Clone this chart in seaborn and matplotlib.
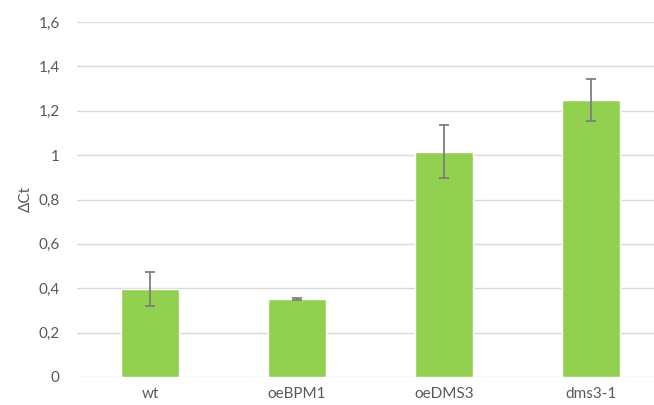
import matplotlib
matplotlib.use("Agg")
import matplotlib.pyplot as plt
import seaborn as sns
import pandas as pd

# Expression data: mean ΔCt per line with error
lines = ["wt", "oeBPM1", "oeDMS3", "dms3-1"]
delta_ct = [0.397, 0.351, 1.015, 1.248]
errors = [0.076, 0.006, 0.120, 0.095]
yticks = [0, 0.2, 0.4, 0.6, 0.8, 1.0, 1.2, 1.4, 1.6]
ytick_labels = ["0", "0,2", "0,4", "0,6", "0,8", "1", "1,2", "1,4", "1,6"]

df = pd.DataFrame({"line": lines, "dct": delta_ct, "err": errors})

sns.set_style("white")
plt.rcParams["font.family"] = ["Lato", "DejaVu Sans"]

fig = plt.figure(figsize=(6.54, 4.05), dpi=100)
ax = fig.add_axes([77 / 654, 28 / 405, 587 / 654, 355 / 405])

sns.barplot(data=df, x="line", y="dct", color="#92D050", width=0.395,
            saturation=1, errorbar=None, ax=ax, zorder=3)
ax.errorbar(range(len(lines)), delta_ct, yerr=errors, fmt="none",
            ecolor="#7f7f7f", elinewidth=1.3, capsize=3.5, capthick=1.3, zorder=4)

ax.set_ylim(0, 1.6)
ax.set_xlim(-0.5, len(lines) - 0.5)
ax.set_yticks(yticks)
ax.set_yticklabels(ytick_labels)
ax.yaxis.grid(True, color="#d9d9d9", linewidth=1.0, zorder=0)
ax.set_axisbelow(True)
for s in ax.spines.values():
    s.set_visible(False)
ax.tick_params(axis="both", length=0, colors="#595959", labelsize=11)
ax.tick_params(axis="y", pad=12.5)
ax.tick_params(axis="x", pad=7)
ax.set_xlabel("")
ax.set_ylabel("ΔCt", color="#595959", fontsize=11, labelpad=4)

fig.savefig("out.png", dpi=100)
